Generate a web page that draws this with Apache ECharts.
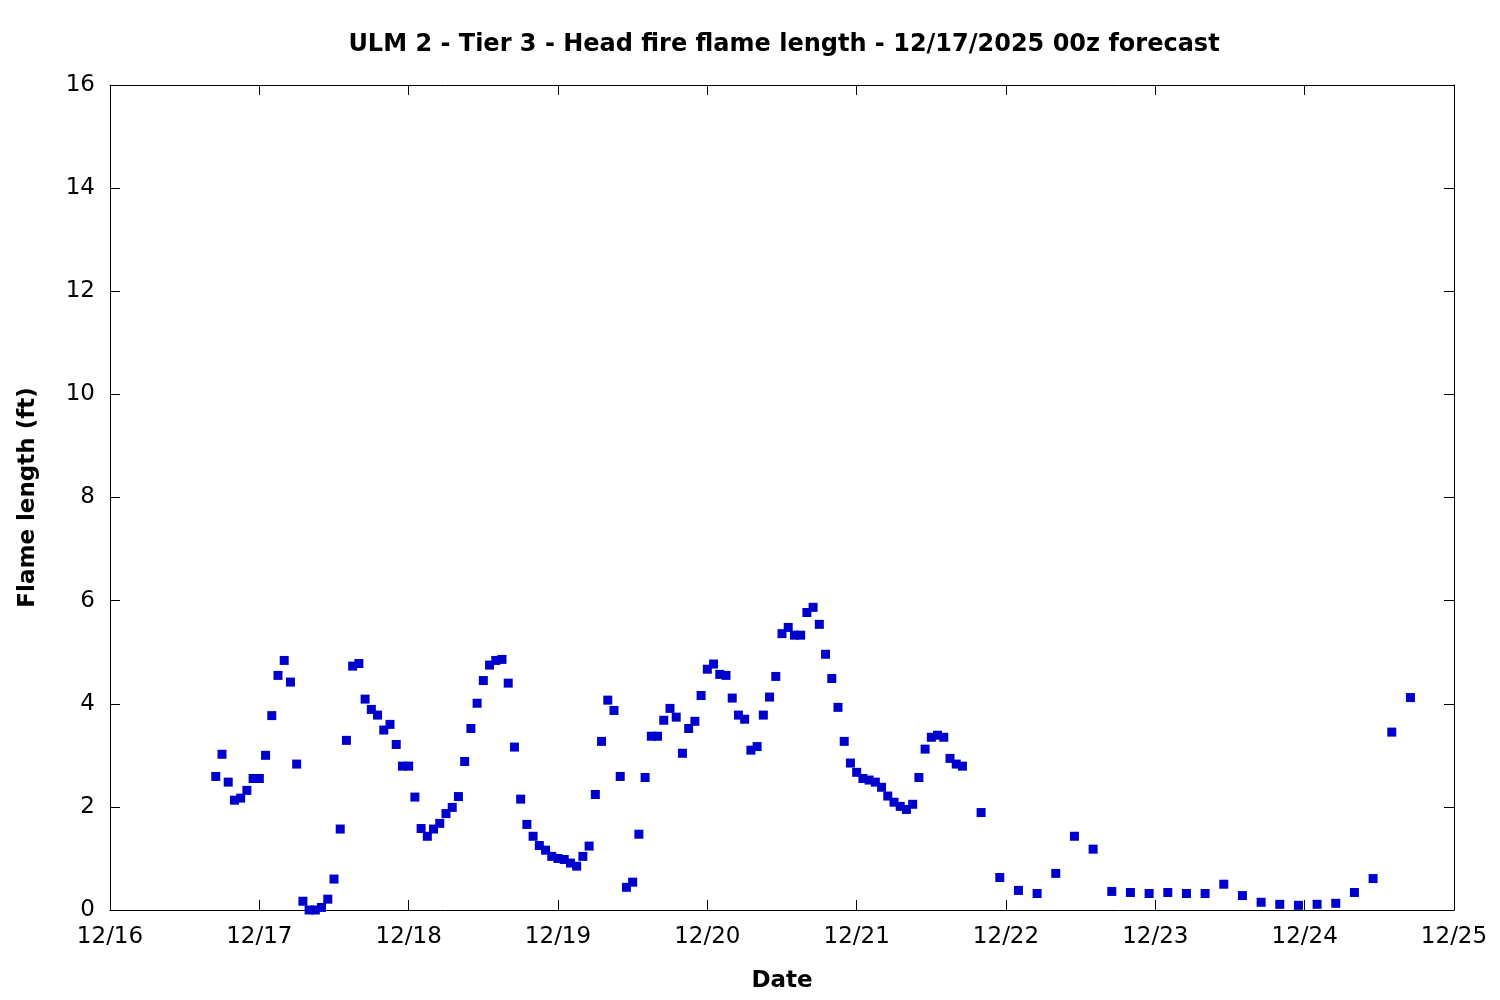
<!DOCTYPE html>
<html>
<head>
<meta charset="utf-8">
<script src="https://cdn.jsdelivr.net/npm/echarts@6/dist/echarts.min.js"></script>
<style>
html,body{margin:0;padding:0;background:#fff;}
#chart{width:1500px;height:1000px;}
</style>
</head>
<body>
<div id="chart"></div>
<script>
// Hourly forecast values starting 2025-12-16 17:00 (hours since 12/16 00:00 = 17)
const hourlyStartHour = 17;
const hourlyValues = [
  2.59, 3.02, 2.48, 2.13, 2.17, 2.32, 2.55,
  2.55, 3.00, 3.77, 4.55, 4.84, 4.42, 2.83, 0.17, 0.00, 0.00, 0.05, 0.21,
  0.60, 1.57, 3.29, 4.73, 4.78, 4.09, 3.89, 3.78, 3.49, 3.60, 3.21, 2.79,
  2.79, 2.19, 1.58, 1.43, 1.57, 1.68, 1.87, 1.99, 2.20, 2.88, 3.52, 4.01,
  4.45, 4.75, 4.84, 4.86, 4.40, 3.16, 2.15, 1.66, 1.43, 1.25, 1.16, 1.04,
  1.00, 0.98, 0.91, 0.85, 1.04, 1.24, 2.24, 3.27, 4.07, 3.87, 2.59, 0.44,
  0.54, 1.47, 2.57, 3.37, 3.37, 3.68, 3.91, 3.74, 3.04, 3.52, 3.66, 4.16,
  4.67, 4.77, 4.57, 4.55, 4.11, 3.78, 3.70, 3.10, 3.17, 3.78, 4.13, 4.53,
  5.36, 5.48, 5.33, 5.33, 5.77, 5.87, 5.54, 4.96, 4.49, 3.93, 3.27, 2.85,
  2.67, 2.55, 2.52, 2.48, 2.38, 2.21, 2.09, 2.01, 1.95, 2.05, 2.57, 3.12,
  3.35, 3.39, 3.35, 2.94, 2.83, 2.79
];
// 3-hourly forecast values starting 2025-12-21 20:00 (hours since 12/16 00:00 = 140)
const threeHourlyStartHour = 140;
const threeHourlyValues = [
  1.89, 0.63, 0.38, 0.32, 0.71, 1.43, 1.18, 0.36, 0.34, 0.32, 0.34, 0.32,
  0.32, 0.50, 0.28, 0.15, 0.11, 0.09, 0.11, 0.13, 0.34, 0.61, 3.45, 4.12
];
const xTickLabels = ['12/16','12/17','12/18','12/19','12/20','12/21','12/22','12/23','12/24','12/25'];
const yTicks = [0,2,4,6,8,10,12,14,16];

const points = [];
hourlyValues.forEach((v,i)=>points.push([hourlyStartHour + i, v]));
threeHourlyValues.forEach((v,i)=>points.push([threeHourlyStartHour + 3*i, v]));

const FONT = 'DejaVu Sans';
const chart = echarts.init(document.getElementById('chart'), null, {renderer:'canvas'});
const lineStyle = {color:'#000', width:1};
chart.setOption({
  animation:false,
  backgroundColor:'#fff',
  title:{
    text:'ULM 2 - Tier 3 - Head fire flame length - 12/17/2025 00z forecast',
    left:779, top:28, textAlign:'center',
    textStyle:{fontFamily:FONT, fontWeight:'bold', fontSize:24, color:'#000'}
  },
  grid:{left:110, right:46, top:85, bottom:90, show:false, containLabel:false},
  xAxis:[{
    type:'value', min:0, max:216, interval:24,
    axisLine:{show:true, onZero:false, lineStyle:lineStyle},
    axisTick:{show:true, inside:true, length:10, lineStyle:lineStyle},
    splitLine:{show:false},
    axisLabel:{fontFamily:FONT, fontSize:23, color:'#000', margin:16,
      formatter:(v)=>xTickLabels[Math.round(v/24)]},
    name:'Date', nameLocation:'middle', nameGap:60,
    nameTextStyle:{fontFamily:FONT, fontWeight:'bold', fontSize:23, color:'#000'}
  },{
    type:'value', min:0, max:216, interval:24, position:'top',
    axisLine:{show:true, onZero:false, lineStyle:lineStyle},
    axisTick:{show:true, inside:true, length:10, lineStyle:lineStyle},
    axisLabel:{show:false}, splitLine:{show:false}
  }],
  yAxis:[{
    type:'value', min:0, max:16, interval:2,
    axisLine:{show:true, onZero:false, lineStyle:lineStyle},
    axisTick:{show:true, inside:true, length:10, lineStyle:lineStyle},
    splitLine:{show:false},
    axisLabel:{fontFamily:FONT, fontSize:23, color:'#000', margin:15,
      formatter:(v)=>String(yTicks[Math.round(v/2)])},
    name:'Flame length (ft)', nameLocation:'middle', nameGap:70, nameRotate:90,
    nameTextStyle:{fontFamily:FONT, fontWeight:'bold', fontSize:23, color:'#000'}
  },{
    type:'value', min:0, max:16, interval:2, position:'right',
    axisLine:{show:true, onZero:false, lineStyle:lineStyle},
    axisTick:{show:true, inside:true, length:10, lineStyle:lineStyle},
    axisLabel:{show:false}, splitLine:{show:false}
  }],
  series:[{
    type:'scatter',
    xAxisIndex:0, yAxisIndex:0,
    symbol:'rect', symbolSize:9,
    itemStyle:{color:'#0000cd', opacity:1},
    data:points
  }]
});
</script>
</body>
</html>
